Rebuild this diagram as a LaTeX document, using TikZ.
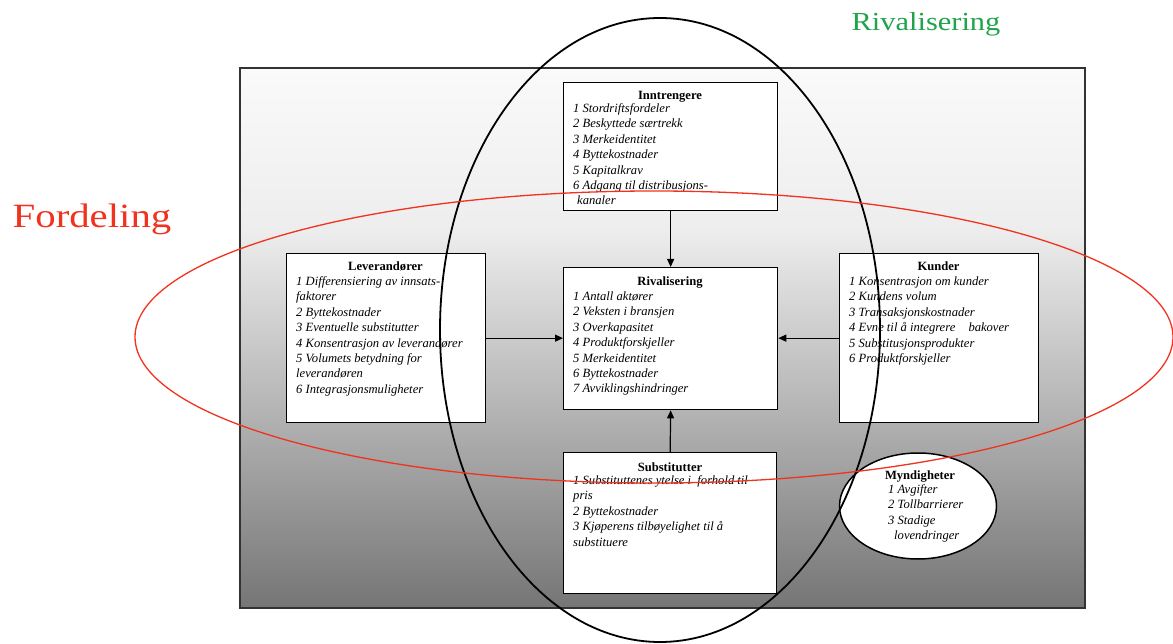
\documentclass[tikz,border=0pt]{standalone}
\usepackage{fontspec}
\setmainfont{Liberation Serif}
\usetikzlibrary{shapes.geometric,arrows.meta}
\pgfdeclareverticalshading{bgshade}{100bp}{color(0bp)=(black!54); color(25bp)=(black!54); color(60bp)=(black!7); color(75bp)=(black!2); color(100bp)=(black!2)}
\definecolor{rivgreen}{RGB}{30,165,75}
\definecolor{fordred}{RGB}{240,50,30}
\begin{document}
\begin{tikzpicture}[x=1pt,y=-1pt,
  box/.style={draw=black,line width=1.3pt,fill=white,anchor=north west,inner sep=0pt},
  head/.style={anchor=base,font={\fontsize{12.6}{14}\selectfont\bfseries},inner sep=0pt},
  items/.style={anchor=north west,align=left,inner sep=0pt,font={\fontsize{12.6}{15.4}\selectfont\itshape}},
  arr/.style={line width=1.2pt,-{Triangle[length=8pt,width=7pt]}}]
\useasboundingbox (0,0) rectangle (1173,644);
% background panel
\shade[shading=bgshade] (240,68) rectangle (1085,608);
\draw[draw=black!80,line width=2pt] (240,68) rectangle (1085,608);
% boxes
\node[box,minimum width=214pt,minimum height=128pt] (inn) at (563,82) {};
\node[box,minimum width=199pt,minimum height=169pt] (lev) at (286,253) {};
\node[box,minimum width=214pt,minimum height=142pt] (riv) at (563,267) {};
\node[box,minimum width=199pt,minimum height=169pt] (kun) at (839,253) {};
\node[box,minimum width=213pt,minimum height=141pt] (sub) at (563,452) {};
\node[draw=black,line width=1.5pt,fill=white,ellipse,minimum width=157pt,minimum height=106pt] (myn) at (918,506) {};
% texts
\node[head] (innh) at (670,100) {Inntrengere};
\node[items] (inni) at (573,103.5) {1 Stordriftsfordeler\\2 Beskyttede særtrekk\\3 Merkeidentitet\\4 Byttekostnader\\5 Kapitalkrav\\6 Adgang til distribusjons-\\\hspace*{4pt}kanaler};
\node[head] (levh) at (385.5,271) {Leverandører};
\node[items] (levi) at (296,276.5) {1 Differensiering av innsats-\\faktorer\\2 Byttekostnader\\3 Eventuelle substitutter\\4 Konsentrasjon av leverandører\\5 Volumets betydning for\\leverandøren\\6 Integrasjonsmuligheter};
\node[head] (rivh) at (670,286) {Rivalisering};
\node[items] (rivi) at (573,291.5) {1 Antall aktører\\2 Veksten i bransjen\\3 Overkapasitet\\4 Produktforskjeller\\5 Merkeidentitet\\6 Byttekostnader\\7 Avviklingshindringer};
\node[head] (kunh) at (938.5,271) {Kunder};
\node[items] (kuni) at (849,276.5) {1 Konsentrasjon om kunder\\2 Kundens volum\\3 Transaksjonskostnader\\4 Evne til å integrere \hspace*{10pt}bakover\\5 Substitusjonsprodukter\\6 Produktforskjeller};
\node[head] (subh) at (670,471) {Substitutter};
\node[items] (subi) at (573,475.5) {1 Substituttenes ytelse i \ forhold til\\pris\\2 Byttekostnader\\3 Kjøperens tilbøyelighet til å\\substituere};
\node[head] (mynh) at (920,479) {Myndigheter};
\node[items] (myni) at (888,484.5) {1 Avgifter\\2 Tollbarrierer\\3 Stadige\\\hspace*{6pt}lovendringer};
% arrows
\draw[arr] (inn.south) -- (riv.north);
\draw[arr] (sub.north) -- (riv.south);
\draw[arr] (lev.east) -- (riv.west |- lev.east);
\draw[arr] (kun.west) -- (riv.east |- kun.west);
% ellipses
\draw[black,line width=1.8pt] (660,330) ellipse [x radius=220, y radius=312];
\draw[fordred,line width=1.3pt] (654,337) ellipse [x radius=519, y radius=146];
% titles
\node[text=rivgreen,font={\fontsize{26}{30}\selectfont},inner sep=0pt] (triv) at (926,24) {\scalebox{1.17}[1]{Rivalisering}};
\node[text=fordred,font={\fontsize{34}{40}\selectfont},inner sep=0pt] (tford) at (92,219) {\scalebox{1.2}[1]{Fordeling}};
\end{tikzpicture}
\end{document}
